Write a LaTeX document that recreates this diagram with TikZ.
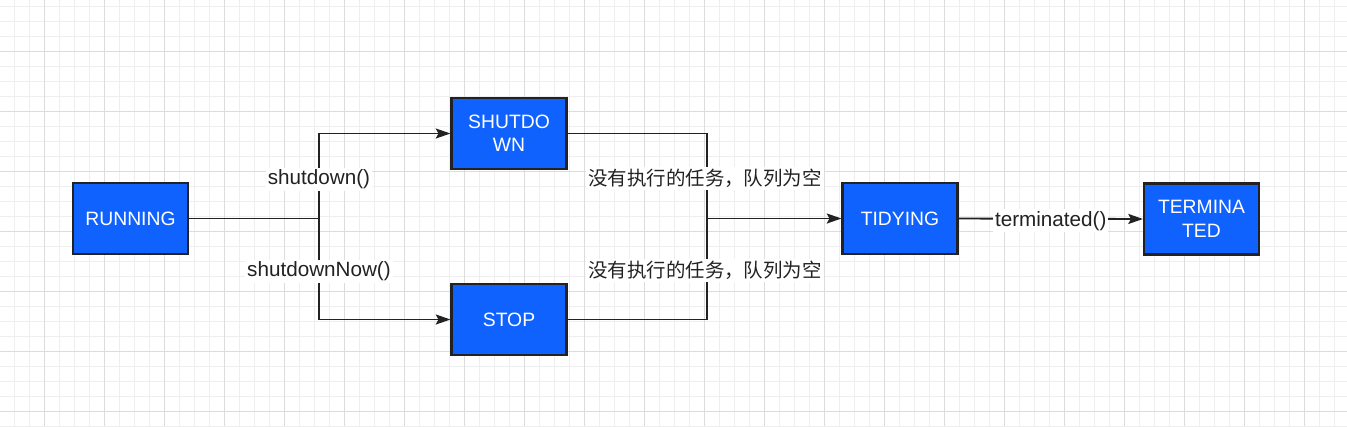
\documentclass[tikz,border=0pt]{standalone}
\usepackage{fontspec}
\setmainfont{Liberation Sans}
\newfontfamily\cjk{Noto Sans CJK SC}
\usetikzlibrary{arrows.meta}
\definecolor{boxblue}{HTML}{1062FE}
\definecolor{edgec}{HTML}{222222}
\definecolor{gridminor}{HTML}{EEEEEE}
\definecolor{gridmajor}{HTML}{DCDCDC}
\begin{document}
\begin{tikzpicture}[x=0.75pt,y=-0.75pt,
  state/.style={draw=edgec, line width=1.8pt, fill=boxblue, text=white,
    minimum width=86pt, minimum height=53pt, inner sep=0pt, align=center,
    font=\fontsize{14.5}{17.5}\selectfont},
  conn/.style={draw=edgec, line width=1.4pt},
  arr/.style={conn, -{Stealth[length=11pt,width=7.5pt,inset=2pt]}},
  lbl/.style={fill=white, text=edgec, inner sep=1.5pt,
    font=\fontsize{15.5}{17.5}\selectfont},
  cjklbl/.style={lbl, font=\cjk\fontsize{14.6}{17.5}\selectfont},
  gmin/.style={draw=gridminor, line width=0.75pt},
  gmaj/.style={draw=gridmajor, line width=0.75pt}]
\useasboundingbox (0,0) rectangle (1347,426);
\clip (0,0) rectangle (1347,426);
\fill[white] (0,0) rectangle (1347,426);
% grid
\foreach \k in {0,...,89} \draw[gmin] ({14.7+15*\k},0) -- ({14.7+15*\k},426);
\foreach \k in {0,...,28} \draw[gmin] (0,{6.3+15*\k}) -- (1347,{6.3+15*\k});
\foreach \k in {0,...,22} \draw[gmaj] ({44.7+60*\k},0) -- ({44.7+60*\k},426);
\foreach \k in {0,...,6} \draw[gmaj] (0,{51.3+60*\k}) -- (1347,{51.3+60*\k});
% states
\node[state] (run) at (130.5,218.5) {RUNNING};
\node[state] (sd) at (509,133.5) {SHUTDO\\WN};
\node[state] (stop) at (509,319.5) {STOP};
\node[state] (tidy) at (900,218.5) {TIDYING};
\node[state] (term) at (1201.5,219) {TERMINA\\TED};
% junctions
\coordinate (j1) at (319,218.5);
\coordinate (j2) at (707,218.5);
% connectors
\draw[conn] (run.east) -- (j1);
\draw[arr] (j1) |- (sd.west);
\draw[arr] (j1) |- (stop.west);
\draw[conn] (sd.east) -| (j2);
\draw[conn] (stop.east) -| (j2);
\draw[arr] (j2) -- (tidy.west);
\draw[arr] (tidy.east) -- node[lbl, yshift=-1.5pt] (lt) {terminated()} (term.west);
% labels
\node[lbl] (l1) at (319,179.5) {shutdown()};
\node[lbl] (l2) at (319,271.5) {shutdownNow()};
\node[cjklbl] (l3) at (705,178.5) {没有执行的任务，队列为空};
\node[cjklbl] (l4) at (705,270.5) {没有执行的任务，队列为空};
\end{tikzpicture}
\end{document}
